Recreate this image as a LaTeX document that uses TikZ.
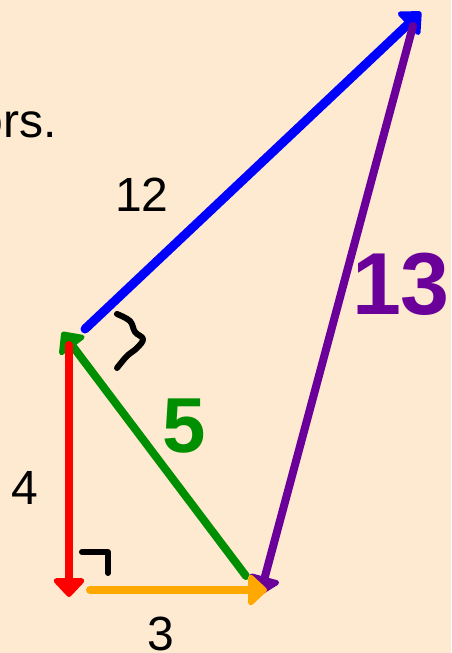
\documentclass[tikz,border=0pt]{standalone}
\usepackage{fontspec}
\setmainfont{Liberation Sans}
\usetikzlibrary{arrows.meta}
\definecolor{bg}{HTML}{FDEAD0}
\definecolor{vblue}{HTML}{0000FF}
\definecolor{vpurple}{HTML}{6A0099}
\definecolor{vgreen}{HTML}{008F00}
\definecolor{vred}{HTML}{FF0000}
\definecolor{vorange}{HTML}{FFA800}
\begin{document}
\begin{tikzpicture}[x=1pt,y=-1pt,
  vec/.style={line width=8pt,line cap=round,-{Triangle[length=20pt,width=36pt,round]}},
  penmark/.style={line width=6pt,line cap=round,line join=round},
  lbl/.style={inner sep=0pt,font=\fontsize{48}{58}\selectfont},
  blbl/.style={inner sep=0pt,font=\bfseries\fontsize{#1}{#1}\selectfont}]
\fill[bg] (0,0) rectangle (451,653);
\useasboundingbox (0,0) rectangle (451,653);
% points
\coordinate (bt) at (85,329);
\coordinate (bh) at (421,12);
\coordinate (pt) at (413,26);
\coordinate (ph) at (260,595);
\coordinate (gt) at (246,576);
\coordinate (gh) at (62,332);
\coordinate (rt) at (69,345);
\coordinate (rh) at (69,597);
\coordinate (ot) at (90,590);
\coordinate (oh) at (267,590);
% vectors
\draw[vec,vblue,line width=9pt] (bt) -- (bh);
\draw[vec,vpurple] (pt) -- (ph);
\draw[vec,vgreen] (gt) -- (gh);
\draw[vec,vred] (rt) -- (rh);
\draw[vec,vorange] (ot) -- (oh);
% marks
\draw[penmark] plot[smooth,tension=0.6] coordinates {(117,314) (130,321) (135,332) (143,339) (137,348) (127,356) (117,368)};
\draw[penmark] (82,552) -- (108,552) -- (108,573);
% labels
\node[lbl,anchor=base east] (title) at (57,137) {vectors.};
\node[lbl] (l12) at (142,195) {12};
\node[lbl] (l4) at (25,488) {4};
\node[lbl,anchor=base] (l3) at (161,650) {3};
\node[blbl=88,text=vpurple] (l13) at (401,284) {13};
\node[blbl=78,text=vgreen] (l5) at (184,426) {5};
\end{tikzpicture}
\end{document}
